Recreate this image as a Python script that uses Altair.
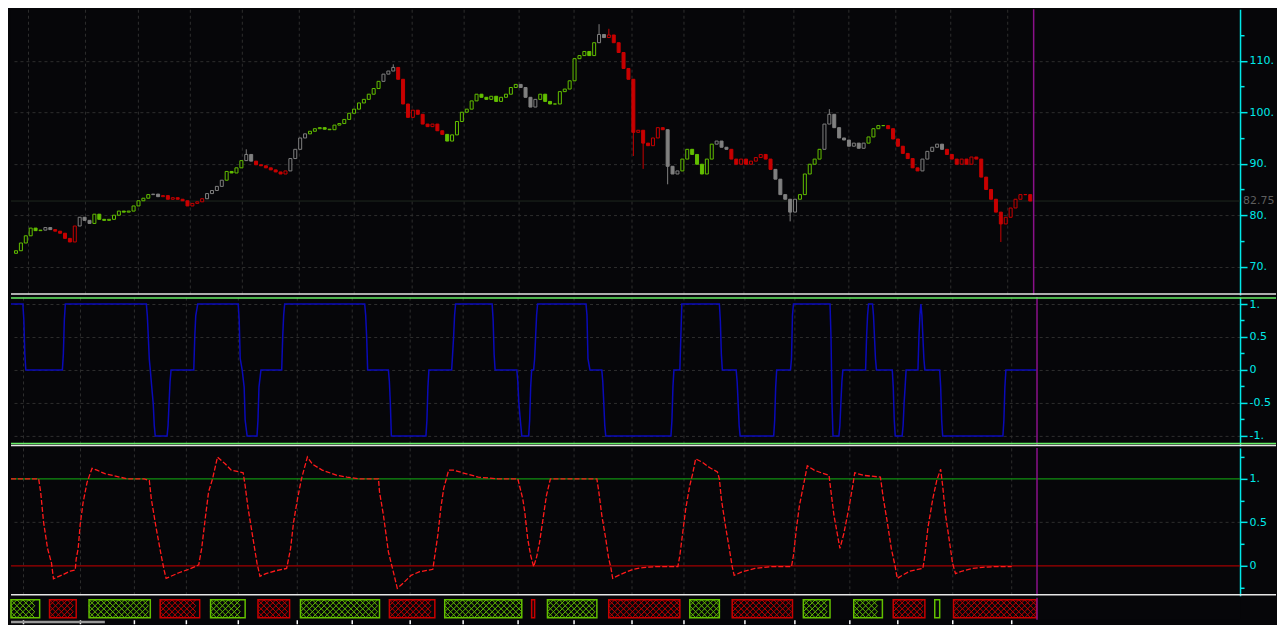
import altair as alt
import pandas as pd

# ---------------- colours ----------------
BG = "#060609"
CYAN = "#00e8e8"
GRID = "#2e2e2e"
GREEN = "#62bf00"
RED = "#c80000"
GREY = "#808080"
BLUE = "#0a0ab8"
OSC_RED = "#ff1a1a"
ONE_GREEN = "#109010"
ZERO_RED = "#a00000"
PURPLE = "#8a108a"
SEP_WHITE = "#e6e6e6"
SEP_GREEN = "#66ee66"

W = 1230
RIGHT = 36
H_MAIN, H_SIG, H_OSC, H_STRIP = 286, 149, 148, 22
X_DOM = [0, 1244]

# ---------------- data ----------------
month_t = [12, 70, 124, 177, 230, 289, 345, 404, 457, 513, 569, 628, 681,
           742, 793, 849, 897, 953, 1012]
cursor_t = 1038.5
last_close = 82.75
scroll_t = [0, 95]

bar_t = list(range(0, 1040, 5))
bar_close = [
    73.1, 74.6, 76.0, 77.5, 77.0, 77.1, 77.6, 77.2, 76.9, 76.5, 75.5, 74.8, 77.9, 79.6, 79.0, 78.4, 80.2, 79.2, 79.0, 79.2,
    80.0, 80.8, 80.6, 80.8, 81.8, 82.8, 83.3, 84.0, 84.1, 83.6, 83.8, 83.1, 83.4, 83.1, 82.8, 81.8, 82.3, 82.6, 83.2, 84.2,
    84.8, 85.6, 86.8, 88.5, 88.2, 89.2, 90.6, 91.8, 90.5, 89.8, 89.6, 89.2, 88.8, 88.4, 88.0, 88.6, 91.0, 92.8, 95.0, 95.8,
    96.3, 96.8, 97.0, 96.7, 96.6, 97.5, 97.8, 98.6, 99.8, 100.6, 101.8, 102.5, 103.5, 104.6, 106.0, 107.4, 108.0, 108.7, 106.4, 101.6,
    99.0, 100.4, 99.6, 97.7, 97.2, 97.7, 96.4, 95.7, 94.4, 95.6, 98.2, 100.0, 100.6, 102.2, 103.5, 102.9, 102.5, 103.1, 102.1, 102.9,
    103.5, 104.8, 105.4, 104.8, 102.9, 101.0, 102.5, 103.5, 102.1, 101.6, 101.6, 104.0, 104.5, 106.1, 110.4, 111.0, 111.8, 111.0, 113.5, 115.1,
    114.5, 115.0, 113.5, 111.6, 108.5, 106.4, 96.1, 96.5, 94.0, 93.5, 95.0, 97.0, 96.6, 89.5, 88.0, 88.6, 90.9, 92.8, 91.8, 89.9,
    88.0, 90.9, 93.8, 94.4, 93.2, 92.8, 90.9, 89.9, 90.9, 89.9, 90.5, 91.2, 91.8, 90.9, 88.9, 87.0, 84.0, 83.1, 80.6, 83.1,
    84.0, 88.0, 89.9, 90.9, 92.8, 97.7, 99.6, 97.0, 95.0, 94.6, 93.4, 94.0, 93.0, 94.0, 95.2, 96.8, 97.4, 97.4, 96.8, 94.8,
    93.4, 92.0, 91.0, 89.2, 88.6, 90.9, 92.4, 93.2, 93.8, 92.8, 91.8, 90.9, 89.9, 90.9, 89.9, 91.3, 90.9, 87.4, 85.0, 83.1,
    80.6, 78.3, 79.6, 81.4, 83.1, 84.0, 84.0, 82.75,
]
first_open = 72.6
hi_spikes = {235: 92.8, 385: 109.3, 595: 117.1, 605: 116.2, 830: 100.6}
lo_spikes = {630: 91.5, 640: 89.0, 665: 86.0, 790: 78.8, 1005: 74.8}

trend_end = [30, 38, 64, 79, 140, 150, 191, 215, 232, 245, 280, 300, 372, 390, 440,
             515, 535, 594, 604, 665, 680, 712, 730, 775, 800, 825, 870, 890, 925, 950, 1040]
trend_state = ["up", "flat", "down", "flat", "up", "flat", "down", "flat", "up", "flat",
               "down", "flat", "up", "flat", "down", "up", "flat", "up", "flat", "down",
               "flat", "up", "flat", "down", "flat", "up", "flat", "up", "down", "flat", "down"]
trend_colors = {"up": GREEN, "down": RED, "flat": GREY}

sig_t = [0, 12, 13, 14, 15, 52, 53, 54, 55, 137, 138, 139, 140, 141, 142, 144, 145, 146,
         158, 159, 160, 161, 162, 185, 186, 187, 189, 230, 231, 232, 234, 236, 237, 239,
         249, 250, 251, 253, 274, 275, 276, 277, 358, 359, 360, 361, 382, 383, 384, 385,
         420, 421, 422, 423, 446, 447, 448, 449, 450, 487, 488, 489, 490, 512, 513, 514, 516, 517,
         524, 525, 526, 527, 529, 530, 531, 532, 533, 582, 583, 584, 586, 598, 599, 600, 601, 602,
         668, 669, 670, 671, 677, 678, 679, 717, 718, 719, 720, 734, 735, 736, 737, 738,
         772, 773, 774, 775, 789, 790, 791, 792, 829, 830, 831, 832, 838, 839, 840, 841, 842,
         865, 866, 867, 868, 872, 873, 874, 875, 876, 892, 893, 894, 895, 902, 903, 904, 905, 906,
         918, 919, 920, 921, 922, 923, 924, 925, 940, 941, 942, 943, 1004, 1005, 1006, 1007, 1038]
sig_v = [1, 1, 0.76, 0.24, 0, 0, 0.24, 0.76, 1, 1, 0.82, 0.5, 0.16, 0, -0.18, -0.52, -0.84, -1,
         -1, -0.84, -0.5, -0.18, 0, 0, 0.5, 0.82, 1, 1, 0.75, 0.17, 0, -0.26, -0.76, -1,
         -1, -0.76, -0.26, 0, 0, 0.5, 0.83, 1, 1, 0.83, 0.5, 0, 0, -0.18, -0.52, -1,
         -1, -0.76, -0.26, 0, 0, 0.24, 0.5, 0.83, 1, 1, 0.76, 0.24, 0, 0, -0.18, -0.5, -0.84, -1,
         -1, -0.76, -0.26, 0, 0, 0.17, 0.5, 0.83, 1, 1, 0.83, 0.17, 0, 0, -0.18, -0.5, -0.84, -1,
         -1, -0.76, -0.26, 0, 0, 0.5, 1, 1, 0.74, 0.24, 0, 0, -0.18, -0.5, -0.84, -1,
         -1, -0.76, -0.26, 0, 0, 0.17, 0.83, 1, 1, 0.5, -0.5, -1, -1, -0.84, -0.5, -0.18, 0,
         0, 0.5, 0.83, 1, 1, 0.83, 0.5, 0.17, 0, 0, -0.26, -0.76, -1, -1, -0.84, -0.5, -0.26, 0,
         0, 0.5, 0.83, 1, 0.83, 0.5, 0.17, 0, 0, -0.26, -0.76, -1, -1, -0.76, -0.26, 0, 0]

osc_t = [0, 28, 30, 33, 37, 41, 43, 53, 60, 65, 66, 68, 70, 73, 77, 82, 87, 95, 110, 118,
         135, 140, 142, 147, 152, 155, 157, 170, 180, 190, 193, 197, 200, 204, 209, 217, 223,
         235, 237, 240, 245, 249, 252, 258, 267, 279, 283, 286, 290, 294, 300, 305, 315, 330,
         340, 353, 372, 373, 377, 382, 387, 391, 397, 405, 413, 427, 429, 432, 435, 438, 443,
         448, 457, 473, 493, 513, 518, 520, 523, 526, 529, 532, 535, 538, 542, 546, 593, 595,
         598, 602, 605, 607, 609, 615, 623, 630, 640, 653, 675, 677, 680, 683, 687, 690, 693,
         700, 707, 715, 717, 719, 723, 727, 730, 732, 740, 747, 753, 770, 790, 792, 795, 798,
         802, 806, 813, 820, 828, 830, 833, 839, 843, 848, 852, 854, 863, 880, 883, 887, 891,
         895, 897, 902, 910, 923, 925, 928, 933, 937, 941, 943, 946, 950, 953, 956, 963, 973,
         987, 995, 1013]
osc_v = [1.0, 1.0, 0.85, 0.5, 0.2, 0.03, -0.15, -0.1, -0.06, -0.05, 0.08, 0.2, 0.47, 0.73,
         0.96, 1.12, 1.1, 1.06, 1.02, 1.0, 1.0, 0.98, 0.77, 0.43, 0.12, -0.05, -0.145, -0.08,
         -0.04, 0.01, 0.2, 0.58, 0.85, 1.0, 1.25, 1.17, 1.1, 1.07, 0.92, 0.66, 0.31, 0.03,
         -0.12, -0.09, -0.06, -0.03, 0.2, 0.5, 0.77, 1.0, 1.25, 1.17, 1.1, 1.04, 1.02, 1.0,
         1.0, 0.85, 0.58, 0.16, -0.07, -0.26, -0.2, -0.11, -0.07, -0.04, 0.12, 0.35, 0.66,
         0.89, 1.1, 1.1, 1.07, 1.02, 1.0, 1.0, 0.77, 0.62, 0.31, 0.12, -0.01, 0.1, 0.27, 0.5,
         0.81, 1.0, 1.0, 0.85, 0.58, 0.31, 0.08, -0.01, -0.145, -0.11, -0.07, -0.04, -0.02,
         -0.01, -0.01, 0.12, 0.39, 0.66, 0.92, 1.06, 1.23, 1.19, 1.13, 1.08, 1.0, 0.77, 0.47,
         0.2, -0.01, -0.11, -0.07, -0.05, -0.03, -0.01, -0.01, 0.12, 0.43, 0.69, 0.92, 1.15,
         1.1, 1.07, 1.04, 0.85, 0.58, 0.2, 0.37, 0.66, 0.92, 1.07, 1.04, 1.02, 0.77, 0.5, 0.2,
         -0.01, -0.145, -0.11, -0.06, -0.03, 0.12, 0.43, 0.77, 0.98, 1.11, 0.92, 0.58, 0.27,
         0.03, -0.09, -0.06, -0.03, -0.015, -0.01, -0.01]

box_t0 = [0, 39, 79, 151, 202, 250, 293, 383, 439, 527, 543, 605, 687, 730, 802, 853, 893, 935, 954]
box_t1 = [29, 66, 141, 191, 237, 282, 373, 429, 517, 530, 593, 677, 717, 791, 829, 882, 925, 940, 1038]
box_state = ["up", "down", "up", "down", "up", "down", "up", "down", "up", "down",
             "up", "down", "up", "down", "up", "up", "down", "up", "down"]
hatch_step = 6          # spacing of the cross-hatch inside each state box
hatch_rows = [5, 11, 17]

# ---------------- tables ----------------
opens = [first_open] + bar_close[:-1]
rows = []
j = 0
for t, o, c in zip(bar_t, opens, bar_close):
    while t >= trend_end[j]:
        j += 1
    col = trend_colors[trend_state[j]]
    hi = max(o, c, hi_spikes.get(t, -1e9))
    lo = min(o, c, lo_spikes.get(t, 1e9))
    rows.append(dict(t=t, open=o, close=c, high=hi, low=lo, col=col,
                     fillc=(col if c < o else BG)))
bars = pd.DataFrame(rows)
sig = pd.DataFrame({"t": sig_t, "v": sig_v})
osc = pd.DataFrame({"t": osc_t, "v": osc_v})
box_cols = [GREEN if s == "up" else RED for s in box_state]
boxes = pd.DataFrame({"t0": box_t0, "t1": box_t1, "col": box_cols,
                      "y0": [2] * len(box_t0), "y1": [20] * len(box_t0)})
hatch = []
for t0, t1, c in zip(box_t0, box_t1, box_cols):
    k = t0 + hatch_step / 2
    while k <= t1 - hatch_step / 2 + 1e-9:
        for r in hatch_rows:
            hatch.append(dict(t=k, r=r, col=c))
        k += hatch_step
hatch = pd.DataFrame(hatch)
one = pd.DataFrame({"v": [0]})
cur = pd.DataFrame({"t": [cursor_t]})
lastp = pd.DataFrame({"p": [last_close], "lab": [f"{last_close:.2f}"]})
scroll = pd.DataFrame({"t0": [scroll_t[0]], "t1": [scroll_t[1]],
                       "y0": [H_STRIP + 1], "y1": [H_STRIP + 3.5]})

# ---------------- axes ----------------
xgrid = alt.Axis(values=month_t, grid=True, gridColor=GRID, gridDash=[3, 3], gridWidth=1,
                 labels=False, ticks=False, domain=False, title=None, minExtent=0, maxExtent=0)
xscale = alt.Scale(domain=X_DOM, nice=False, zero=False)


def yaxis(values, major_test, label_expr, grid_test):
    return alt.Axis(
        orient="right", values=values, title=None,
        domainColor=CYAN, domainWidth=1.5, tickColor=CYAN, tickWidth=1.5,
        tickSize={"condition": {"test": major_test, "value": 7}, "value": 4},
        labelColor=CYAN, labelFont="DejaVu Sans", labelFontSize=11, labelPadding=2,
        labelExpr=label_expr, labelOverlap=False, labelFlush=False, labelBound=False,
        grid=True, gridColor=GRID, gridDash=[3, 3], gridWidth=1,
        gridOpacity={"condition": {"test": grid_test, "value": 1}, "value": 0},
    )


half_test = "abs(datum.value * 2 - round(datum.value * 2)) < 0.001"
half_label = ("abs(datum.value * 2 - round(datum.value * 2)) > 0.001 ? '' : "
              "(datum.value === 0 ? '0' : (datum.value < 0 ? '-' : '') + "
              "(abs(datum.value) === 1 ? '1.' : format(abs(datum.value), '.1f')))")

ax_main = yaxis(list(range(70, 120, 5)), "datum.value % 10 === 0",
                "datum.value % 10 === 0 ? format(datum.value, 'd') + '.' : ''",
                "datum.value % 10 === 0")
ax_sig = yaxis([-1, -0.75, -0.5, -0.25, 0, 0.25, 0.5, 0.75, 1], half_test, half_label, half_test)
ax_osc = yaxis([-0.25, 0, 0.25, 0.5, 0.75, 1, 1.25], half_test, half_label,
               "abs(datum.value - 0.5) < 0.001")

ys_main = alt.Scale(domain=[64.5, 120], nice=False, zero=False)
ys_sig = alt.Scale(domain=[-1.152, 1.106], nice=False, zero=False)
ys_osc = alt.Scale(domain=[-0.345, 1.356], nice=False, zero=False)
ys_strip = alt.Scale(domain=[H_STRIP, 0], nice=False, zero=False)


def X(field):
    return alt.X(field, scale=xscale, axis=xgrid)


def sep(y, color, width=1.5):
    return alt.Chart(one).mark_rule(color=color, strokeWidth=width).encode(
        x=alt.value(0), x2=alt.value(W + RIGHT), y=alt.value(y))


def cursor(h):
    return alt.Chart(cur).mark_rule(color=PURPLE, strokeWidth=1.5).encode(
        x=X("t:Q"), y=alt.value(0), y2=alt.value(h))


# ---------------- main price panel ----------------
last_line = alt.Chart(lastp).mark_rule(color="#1e281e", strokeWidth=1).encode(
    y=alt.Y("p:Q", scale=ys_main, axis=ax_main))
wicks = alt.Chart(bars).mark_rule(strokeWidth=1).encode(
    x=X("t:Q"),
    y=alt.Y("low:Q", scale=ys_main, axis=ax_main), y2="high:Q",
    color=alt.Color("col:N", scale=None))
bodies = alt.Chart(bars).mark_bar(size=3, strokeWidth=1).encode(
    x=X("t:Q"),
    y=alt.Y("open:Q", scale=ys_main, axis=ax_main), y2="close:Q",
    fill=alt.Fill("fillc:N", scale=None), stroke=alt.Stroke("col:N", scale=None))
tag = alt.Chart(lastp).mark_text(align="left", baseline="middle", color="#5e5e5e",
                                 font="DejaVu Sans", fontSize=11).encode(
    y=alt.Y("p:Q", scale=ys_main, axis=ax_main), x=alt.value(W + 3), text="lab:N")

main = alt.layer(last_line, wicks, bodies, cursor(H_MAIN), tag,
                 sep(H_MAIN - 1, SEP_WHITE)).properties(width=W, height=H_MAIN)

# ---------------- signal panel ----------------
sig_line = alt.Chart(sig).mark_line(color=BLUE, strokeWidth=1.5, interpolate="linear").encode(
    x=X("t:Q"), y=alt.Y("v:Q", scale=ys_sig, axis=ax_sig))
p2 = alt.layer(sig_line, cursor(H_SIG), sep(1, SEP_GREEN), sep(H_SIG - 2.5, SEP_GREEN),
               sep(H_SIG - 0.5, SEP_WHITE)).properties(width=W, height=H_SIG)

# ---------------- oscillator panel ----------------
one_line = alt.Chart(pd.DataFrame({"v": [1.0]})).mark_rule(color=ONE_GREEN, strokeWidth=1.2).encode(
    y=alt.Y("v:Q", scale=ys_osc, axis=ax_osc))
zero_line = alt.Chart(pd.DataFrame({"v": [0.0]})).mark_rule(color=ZERO_RED, strokeWidth=1.2).encode(
    y=alt.Y("v:Q", scale=ys_osc, axis=ax_osc))
osc_line = alt.Chart(osc).mark_line(color=OSC_RED, strokeWidth=1.3, strokeDash=[5, 2]).encode(
    x=X("t:Q"), y=alt.Y("v:Q", scale=ys_osc, axis=ax_osc))
p3 = alt.layer(one_line, zero_line, osc_line, cursor(H_OSC),
               sep(H_OSC - 1, SEP_WHITE)).properties(width=W, height=H_OSC)

# ---------------- state strip ----------------
xstrip = alt.Axis(values=month_t, grid=False, labels=False, ticks=True, tickColor="#ffffff",
                  tickSize=4, tickWidth=1.5, domain=False, title=None)
box_layer = alt.Chart(boxes).mark_rect(strokeWidth=1.5, fillOpacity=0).encode(
    x=alt.X("t0:Q", scale=xscale, axis=xstrip), x2="t1:Q",
    y=alt.Y("y0:Q", scale=ys_strip, axis=None), y2="y1:Q",
    stroke=alt.Stroke("col:N", scale=None), fill=alt.Fill("col:N", scale=None))
hatch_layer = alt.Chart(hatch).mark_point(
    shape="M-1,-1L1,1M-1,1L1,-1", size=hatch_step * hatch_step, filled=False,
    strokeWidth=1, opacity=1).encode(
    x=alt.X("t:Q", scale=xscale, axis=xstrip),
    y=alt.Y("r:Q", scale=ys_strip, axis=None),
    stroke=alt.Stroke("col:N", scale=None))
scroll_layer = alt.Chart(scroll).mark_rect(color="#9a9a9a").encode(
    x=alt.X("t0:Q", scale=xscale, axis=xstrip), x2="t1:Q",
    y=alt.Y("y0:Q", scale=ys_strip, axis=None), y2="y1:Q")
strip_cursor = alt.Chart(cur).mark_rule(color=PURPLE, strokeWidth=1.5).encode(
    x=alt.X("t:Q", scale=xscale, axis=xstrip), y=alt.value(0), y2=alt.value(H_STRIP))
strip = alt.layer(box_layer, hatch_layer, scroll_layer, strip_cursor).properties(
    width=W, height=H_STRIP)

chart = alt.vconcat(main, p2, p3, strip, spacing=0, padding=0, background=BG).configure_view(
    stroke=None, fill=BG)

chart.save("out.html", embed_options={"renderer": "svg", "actions": False})
